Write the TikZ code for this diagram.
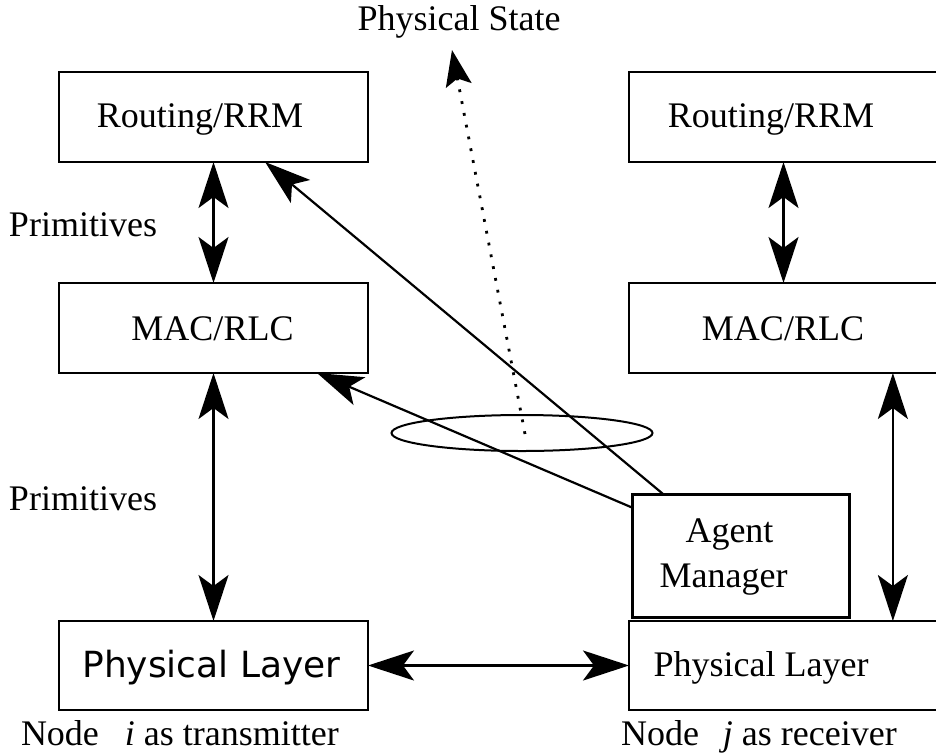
\documentclass[tikz,border=0pt]{standalone}
\usepackage{fontspec}
\setmainfont{Liberation Serif}
\newfontfamily\dvsans{DejaVu Sans}
\usetikzlibrary{arrows.meta,calc,shapes.geometric}
\begin{document}
\begin{tikzpicture}[x=1pt,y=-1pt,
  box/.style={draw, line width=1.4pt, minimum width=309pt, minimum height=90pt, inner sep=0pt, outer sep=0pt, anchor=north west},
  agentbox/.style={draw, line width=3pt, minimum width=217pt, minimum height=123pt, inner sep=0pt, outer sep=0pt, anchor=north west},
  txt/.style={inner sep=0pt, outer sep=0pt, anchor=base, font=\fontsize{36}{43}\selectfont},
  txtw/.style={txt, anchor=base west},
  bigtip/.tip={Stealth[length=46pt,width=30pt,inset=11pt]},
  conn/.style={line width=2.2pt, -bigtip},
  biconn/.style={line width=2.2pt, bigtip-bigtip},
  dotconn/.style={line width=2.8pt, dash pattern=on 2.8pt off 9.2pt, -{Stealth[length=36pt,width=26pt,inset=7pt]}},
]
\useasboundingbox (0,0) rectangle (936,753);
\clip (0,0) rectangle (936,753);

% boxes
\node[box] (rl) at (59,72) {};
\node[box] (ml) at (59,283) {};
\node[box, minimum height=89pt] (pl) at (59,621) {};
\node[box] (rr) at (629,72) {};
\node[box] (mr) at (629,283) {};
\node[box, minimum height=89pt] (pr) at (629,621) {};
\node[agentbox] (agent) at (632,494) {};

% texts
\node[txt] (trl) at (200,127) {Routing/RRM};
\node[txt] (trr) at (771,127) {Routing/RRM};
\node[txt] (tml) at (212.5,340) {MAC/RLC};
\node[txt] (tmr) at (783,340) {MAC/RLC};
\node[txt, font=\dvsans\fontsize{36}{43}\selectfont] (tpl) at (211.5,677) {Physical Layer};
\node[txt] (tpr) at (761,676) {Physical Layer};
\node[txt] (tag1) at (729.5,542) {Agent};
\node[txt] (tag2) at (723.5,587) {Manager};
\node[txt] (pstate) at (459,30) {Physical State};
\node[txtw] (prim1) at (9,236) {Primitives};
\node[txtw] (prim2) at (9,510) {Primitives};
\node[txtw] (nodei) at (21,745) {Node\hspace{26pt}\textit{i} as transmitter};
\node[txtw] (nodej) at (621,745) {Node\hspace{24pt}\textit{j} as receiver};

% ellipse
\node[draw, ellipse, line width=2pt, minimum width=261pt, minimum height=36pt, inner sep=0pt] (ell) at (522,433) {};

% connectors
\draw[biconn] (rl.south) -- (ml.north);
\draw[biconn] (rr.south) -- (mr.north);
\draw[biconn] (ml.south) -- (pl.north);
\draw[biconn] ($(mr.south west)!0.854!(mr.south east)$) -- ($(pr.north west)!0.854!(pr.north east)$);
\draw[biconn] (pl.east) -- (pr.west);
\draw[conn] ($(agent.north west)!0.143!(agent.north east)$) -- ($(rl.south west)!0.667!(rl.south east)$);
\draw[conn] ($(agent.north west)!0.11!(agent.south west)$) -- ($(ml.south west)!0.835!(ml.south east)$);

\coordinate (pstip) at (452,50);
\draw[dotconn] ($(ell.center)+(3,1)$) -- (pstip);
\end{tikzpicture}
\end{document}
